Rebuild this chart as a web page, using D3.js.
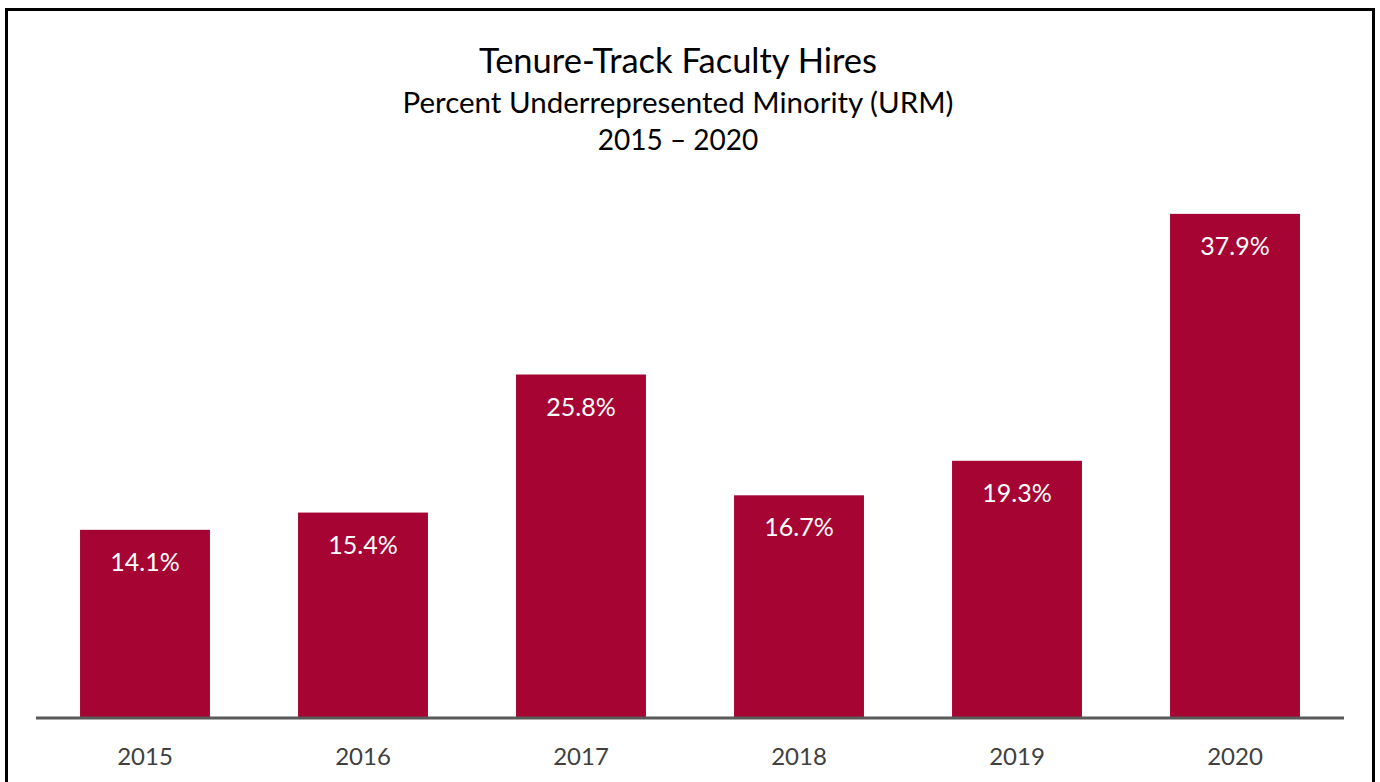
<!DOCTYPE html>
<html>
<head>
<meta charset="utf-8">
<script src="https://cdn.jsdelivr.net/npm/d3@7"></script>
<style>
  body { margin: 0; background: #fff; }
  svg { display: block; font-family: Lato, "Open Sans", sans-serif; }
</style>
</head>
<body>
<svg id="chart" width="1380" height="782"></svg>
<script>
const years = ["2015", "2016", "2017", "2018", "2019", "2020"];
const urmPct = [14.1, 15.4, 25.8, 16.7, 19.3, 37.9];
const titleLines = ["Tenure-Track Faculty Hires", "Percent Underrepresented Minority (URM)", "2015 \u2013 2020"];

const svg = d3.select("#chart");
const W = 1380, H = 782;
const baseY = 717;

// outer frame
svg.append("rect")
  .attr("x", 6.5).attr("y", 9.5)
  .attr("width", 1367).attr("height", H)
  .attr("fill", "none").attr("stroke", "#000").attr("stroke-width", 3);

const x = d3.scaleBand().domain(years).range([36, 1344])
  .paddingInner(0.404).paddingOuter(0.202);
const y = d3.scaleLinear().domain([0, 40]).range([baseY, 186]);

// titles
svg.append("text").attr("x", 678).attr("y", 73)
  .attr("text-anchor", "middle").attr("font-size", 34.5).attr("fill", "#000")
  .text(titleLines[0]);
svg.append("text").attr("x", 678).attr("y", 113)
  .attr("text-anchor", "middle").attr("font-size", 29.5).attr("fill", "#000")
  .text(titleLines[1]);
svg.append("text").attr("x", 678).attr("y", 150)
  .attr("text-anchor", "middle").attr("font-size", 28).attr("fill", "#000")
  .text(titleLines[2]);

const data = years.map((yr, i) => ({ year: yr, v: urmPct[i] }));

svg.selectAll("rect.bar")
  .data(data)
  .join("rect")
  .attr("class", "bar")
  .attr("x", d => x(d.year))
  .attr("y", d => y(d.v))
  .attr("width", x.bandwidth())
  .attr("height", d => baseY - y(d.v))
  .attr("fill", "#A60534");

svg.selectAll("text.val")
  .data(data)
  .join("text")
  .attr("class", "val")
  .attr("x", d => x(d.year) + x.bandwidth() / 2)
  .attr("y", d => y(d.v) + 41)
  .attr("text-anchor", "middle")
  .attr("font-size", 25)
  .attr("fill", "#fff")
  .text(d => d.v.toFixed(1) + "%");

// baseline
svg.append("line")
  .attr("x1", 36).attr("x2", 1344)
  .attr("y1", baseY + 1).attr("y2", baseY + 1)
  .attr("stroke", "#595959").attr("stroke-width", 3);

// category labels
svg.selectAll("text.cat")
  .data(years)
  .join("text")
  .attr("class", "cat")
  .attr("x", d => x(d) + x.bandwidth() / 2)
  .attr("y", 765)
  .attr("text-anchor", "middle")
  .attr("font-size", 24)
  .attr("fill", "#404040")
  .text(d => d);
</script>
</body>
</html>
